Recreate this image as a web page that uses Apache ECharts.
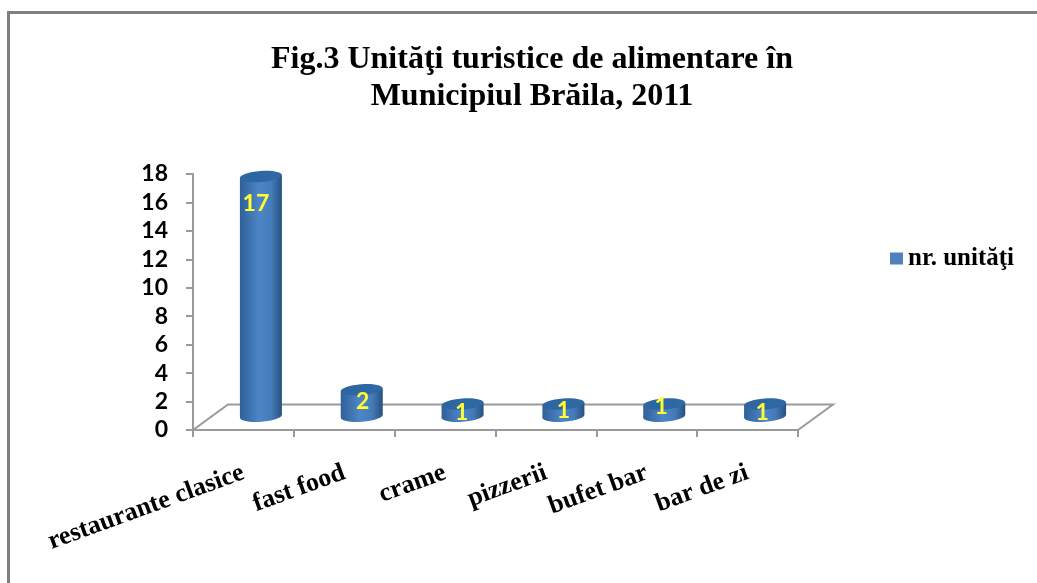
<!DOCTYPE html>
<html>
<head>
<meta charset="utf-8">
<style>
  html, body { margin: 0; padding: 0; background: #fff; }
  #container { width: 1037px; height: 583px; }
</style>
<script src="https://cdn.jsdelivr.net/npm/echarts@6/dist/echarts.min.js"></script>
</head>
<body>
<div id="container"></div>
<script>
var categories = ["restaurante clasice", "fast food", "crame", "pizzerii", "bufet bar", "bar de zi"];
var unitati = [17, 2, 1, 1, 1, 1];
var yTicks = [0, 2, 4, 6, 8, 10, 12, 14, 16, 18];
var seriesName = "nr. unităţi";
var titleText = "Fig.3 Unităţi turistice de alimentare în\nMunicipiul Brăila, 2011";

var myChart = echarts.init(document.getElementById("container"));

var DEPTH_X = 35; // adancimea podelei 3D
var DEPTH_Y = 25.5;
var RX = 21; // raza cilindrului
var RY = 5.5;
var TILT = 0.07;
var GRAY = "#9a9a9a";

// etichetele galbene nu stau la fel pe fiecare cilindru
var labelNudge = [[-5, 27], [1, 12], [-1, 9], [0, 7], [-3, 3], [-3, 9]];

var bodyFill = {
  type: "linear", x: 0, y: 0, x2: 1, y2: 0,
  colorStops: [
    { offset: 0, color: "#2f6099" },
    { offset: 0.45, color: "#4d85c6" },
    { offset: 0.75, color: "#447bb9" },
    { offset: 1, color: "#28517f" }
  ]
};
var topFill = {
  type: "linear", x: 0, y: 0, x2: 1, y2: 0,
  colorStops: [
    { offset: 0, color: "#2c659f" },
    { offset: 1, color: "#2f6aa6" }
  ]
};

function renderFloor(params) {
  var c = params.coordSys;
  var x0 = c.x, x1 = c.x + c.width, y = c.y + c.height;
  var lineStyle = { stroke: GRAY, lineWidth: 2, fill: null };
  return {
    type: "group",
    children: [
      { type: "polyline", shape: { points: [[x0, y], [x0 + DEPTH_X, y - DEPTH_Y], [x1 + DEPTH_X, y - DEPTH_Y], [x1, y]] }, style: lineStyle }
    ]
  };
}

function renderCylinder(params, api) {
  var i = api.value(0);
  var top = api.coord([i, api.value(1)]);
  var base = api.coord([i, 0]);
  var cx = base[0] + DEPTH_X / 2;
  var by = base[1] - DEPTH_Y / 2 - 1;
  var ty = top[1] - DEPTH_Y / 2 + 1;
  var dy = RX * Math.sin(TILT);
  var nudge = labelNudge[i];
  return {
    type: "group",
    children: [
      {
        type: "ellipse",
        shape: { cx: cx, cy: by, rx: RX, ry: RY },
        originX: cx, originY: by, rotation: TILT,
        style: { fill: bodyFill }
      },
      {
        type: "polygon",
        shape: { points: [[cx - RX, ty + dy], [cx + RX, ty - dy], [cx + RX, by - dy], [cx - RX, by + dy]] },
        style: { fill: bodyFill }
      },
      {
        type: "ellipse",
        shape: { cx: cx, cy: ty, rx: RX, ry: RY },
        originX: cx, originY: ty, rotation: TILT,
        style: { fill: topFill }
      },
      {
        type: "text",
        style: {
          x: cx + nudge[0], y: ty + nudge[1],
          text: String(api.value(1)),
          fill: "#ffff33",
          font: "bold 23px Lato",
          align: "center", verticalAlign: "middle"
        }
      }
    ]
  };
}

var option = {
  animation: false,
  backgroundColor: "#fff",
  title: {
    text: titleText,
    left: 527,
    top: 36,
    textAlign: "center",
    textStyle: {
      fontFamily: "Liberation Serif",
      fontWeight: "bold",
      fontSize: 32,
      lineHeight: 37,
      color: "#000"
    }
  },
  legend: {
    data: [seriesName],
    left: 885,
    top: 241,
    icon: "rect",
    itemWidth: 13,
    itemHeight: 12,
    itemGap: 4,
    textStyle: {
      fontFamily: "Liberation Serif",
      fontWeight: "bold",
      fontSize: 25,
      color: "#000",
      padding: [0, 0, 0, 0]
    }
  },
  grid: { left: 193, top: 174, width: 605, height: 256 },
  xAxis: {
    type: "category",
    data: categories,
    axisLine: { lineStyle: { color: GRAY, width: 2 } },
    axisTick: { show: true, alignWithLabel: false, length: 7, lineStyle: { color: GRAY, width: 2 } },
    axisLabel: {
      interval: 0,
      rotate: 20,
      margin: 42,
      fontFamily: "Liberation Serif",
      fontWeight: "bold",
      fontSize: 26,
      color: "#000"
    }
  },
  yAxis: {
    type: "value",
    min: 0,
    max: 18,
    interval: 2,
    axisLine: { show: true, lineStyle: { color: GRAY, width: 2 } },
    axisTick: { show: true, length: 7, lineStyle: { color: GRAY, width: 2 } },
    splitLine: { show: false },
    axisLabel: {
      margin: 25,
      padding: [5, 0, 0, 0],
      fontFamily: "Lato",
      fontWeight: "bold",
      fontSize: 23,
      color: "#000",
      customValues: yTicks
    }
  },
  graphic: [
    {
      type: "polyline",
      shape: { points: [[8.5, 583], [8.5, 12.5], [1037, 12.5]] },
      style: { stroke: "#808080", lineWidth: 3, fill: null },
      silent: true
    }
  ],
  series: [
    {
      name: "podea",
      type: "custom",
      silent: true,
      data: [0],
      renderItem: renderFloor,
      z: 1
    },
    {
      name: seriesName,
      type: "custom",
      itemStyle: { color: "#4f81bd" },
      encode: { x: 0, y: 1 },
      data: unitati.map(function (v, i) { return [i, v]; }),
      renderItem: renderCylinder,
      z: 2
    }
  ]
};

myChart.setOption(option);
</script>
</body>
</html>
